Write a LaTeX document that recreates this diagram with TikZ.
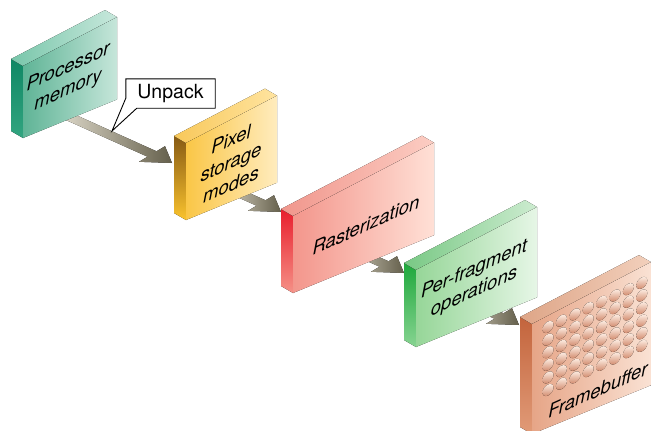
\documentclass[tikz,border=0pt]{standalone}
\usepackage{fontspec}
\setsansfont{TeX Gyre Heros}
\usetikzlibrary{backgrounds}

% face colours: A = darker end, B = lighter end
\definecolor{PmSideA}{RGB}{15,135,100}
\definecolor{PmSideB}{RGB}{50,165,128}
\definecolor{PmTopA}{RGB}{120,198,170}
\definecolor{PmTopB}{RGB}{200,232,220}
\definecolor{PmFrontA}{RGB}{95,180,150}
\definecolor{PmFrontB}{RGB}{198,230,218}
\definecolor{PsSideA}{RGB}{135,90,20}
\definecolor{PsSideB}{RGB}{250,195,45}
\definecolor{PsTopA}{RGB}{248,200,90}
\definecolor{PsTopB}{RGB}{255,228,160}
\definecolor{PsFrontA}{RGB}{250,198,70}
\definecolor{PsFrontB}{RGB}{255,236,190}
\definecolor{RaSideA}{RGB}{232,30,45}
\definecolor{RaSideB}{RGB}{245,145,135}
\definecolor{RaTopA}{RGB}{240,150,140}
\definecolor{RaTopB}{RGB}{252,205,195}
\definecolor{RaFrontA}{RGB}{243,150,140}
\definecolor{RaFrontB}{RGB}{255,224,214}
\definecolor{PfSideA}{RGB}{30,168,60}
\definecolor{PfSideB}{RGB}{135,212,145}
\definecolor{PfTopA}{RGB}{120,200,132}
\definecolor{PfTopB}{RGB}{205,236,208}
\definecolor{PfFrontA}{RGB}{150,214,152}
\definecolor{PfFrontB}{RGB}{230,246,230}
\definecolor{FbSideA}{RGB}{195,100,60}
\definecolor{FbSideB}{RGB}{225,155,120}
\definecolor{FbTopA}{RGB}{222,165,135}
\definecolor{FbTopB}{RGB}{242,208,188}
\definecolor{FbFrontA}{RGB}{230,165,135}
\definecolor{FbFrontB}{RGB}{250,226,212}
\definecolor{FbDotA}{RGB}{250,230,218}
\definecolor{FbDotB}{RGB}{208,135,105}
\definecolor{FlowA}{RGB}{218,213,198}
\definecolor{FlowB}{RGB}{100,95,75}

% #1 name, #2 left x, #3 top y, #4 width, #5 height, #6 colour prefix
\newcommand{\slab}[6]{%
  \coordinate (#1-tl) at (#2,#3);
  \coordinate (#1-tr) at ({#2+#4},{#3-0.52*#4});
  \coordinate (#1-br) at ({#2+#4},{#3+#5-0.41*#4});
  \coordinate (#1-bl) at (#2,{#3+#5});
  \fill[top color=#6SideA,bottom color=#6SideB]
    (#1-bl) -- ++(-12,-7) -- ++(0,-#5) -- (#1-tl) -- cycle;
  \fill[left color=#6TopA,right color=#6TopB]
    (#1-tl) -- ++(-12,-7) -- ++({#4},{-0.52*#4}) -- (#1-tr) -- cycle;
  \fill[left color=#6FrontA,right color=#6FrontB]
    (#1-tl) -- (#1-tr) -- (#1-br) -- (#1-bl) -- cycle;
}

% #1 tip, #2 band length
\newcommand{\flowband}[2]{%
  \fill[flow,shift={(#1)}] ({-15.5-#2},{-11.7-0.45*#2}) -- (-15.5,-11.7) -- (-7,-16.8)
    -- (0,0) -- (-33,-1.2) -- (-24.5,-6.3) -- ({-24.5-#2},{-6.3-0.45*#2}) -- cycle;
}

\begin{document}
\begin{tikzpicture}[x=1pt,y=-1pt,
    facetext/.style={font=\sffamily\itshape\fontsize{18.5}{22.5}\selectfont,
                     align=center,inner sep=0pt,yslant=0.45},
    flow/.style={left color=FlowA,right color=FlowB},
    fbdot/.style={top color=FbDotA,bottom color=FbDotB},
    callout/.style={draw=black,fill=white,line width=0.9pt,line join=miter}]
  \useasboundingbox (0,0) rectangle (651,431);

  \slab{pm}{23}{66}{94}{72}{Pm}
  \slab{psm}{186}{143}{91}{77}{Ps}
  \slab{ras}{293}{216}{141}{77}{Ra}
  \slab{pf}{416}{270}{121}{77}{Pf}
  \slab{fb}{532}{324}{119}{110}{Fb}

  % dimples of the framebuffer
  \foreach \i in {0,...,7}
    \foreach \j in {0,...,5}
      \fill[fbdot,shift={({548+13.4*\i},{327-6.3*\i+12.6*\j})},yslant=0.45]
        (0,0) circle (5.5);

  \node[facetext] (pm-label) at (68,79) {Processor\\memory};
  \node[facetext] (psm-label) at (231,162) {Pixel\\storage\\modes};
  \node[facetext] (ras-label) at (366,225) {Rasterization};
  \node[facetext] (pf-label) at (474,281) {Per-fragment\\operations};
  \node[facetext] (fb-label) at (598,390) {Framebuffer};

  \coordinate (psm-in) at (172,163);
  \coordinate (ras-in) at (281,212);
  \coordinate (pf-in) at (404,273);
  \coordinate (fb-in) at (519,325);

  \begin{scope}[on background layer]
    \flowband{psm-in}{85}
    \flowband{ras-in}{35}
    \flowband{pf-in}{40}
    \flowband{fb-in}{40}
  \end{scope}

  \node[font=\sffamily\fontsize{19.5}{20}\selectfont,minimum width=89pt,
        minimum height=29pt,inner sep=0pt] (unpack) at (170.5,93.5) {Unpack};
  \coordinate (unpack-tip) at (112,131);
  \begin{scope}[on background layer]
    \draw[callout] (unpack.north west) -- (unpack.north east) -- (unpack.south east)
      -- ([xshift=11pt]unpack.south west) -- (unpack-tip)
      -- ([yshift=10pt]unpack.south west) -- cycle;
  \end{scope}
\end{tikzpicture}
\end{document}
